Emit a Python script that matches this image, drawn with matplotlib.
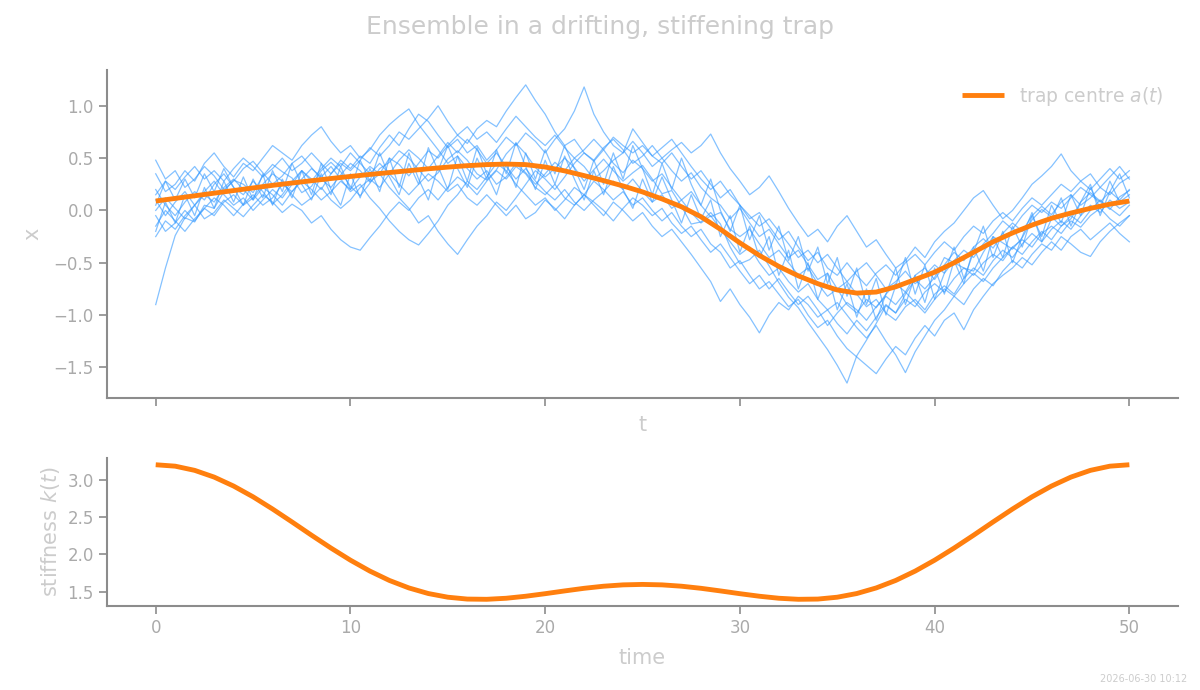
import numpy as np
import matplotlib
matplotlib.use("Agg")
import matplotlib.pyplot as plt

# ---------------- data ----------------
t_centre = list(range(0, 51))
trap_centre = [0.09, 0.115, 0.14, 0.165, 0.19, 0.215, 0.24, 0.262, 0.284, 0.305,
               0.325, 0.344, 0.362, 0.38, 0.398, 0.414, 0.428, 0.438, 0.443, 0.438,
               0.415, 0.378, 0.333, 0.285, 0.234, 0.177, 0.11, 0.035, -0.06, -0.18,
               -0.31, -0.43, -0.535, -0.625, -0.70, -0.76, -0.79, -0.78, -0.73, -0.66,
               -0.59, -0.50, -0.40, -0.30, -0.215, -0.14, -0.075, -0.025, 0.02, 0.06,
               0.09]
stiffness = [3.200, 3.181, 3.125, 3.035, 2.915, 2.771, 2.608, 2.435, 2.258, 2.086,
             1.924, 1.778, 1.653, 1.553, 1.478, 1.429, 1.404, 1.401, 1.415, 1.442,
             1.476, 1.513, 1.548, 1.576, 1.594, 1.600, 1.594, 1.576, 1.548, 1.513,
             1.476, 1.442, 1.415, 1.401, 1.404, 1.429, 1.478, 1.553, 1.653, 1.778,
             1.924, 2.086, 2.258, 2.435, 2.608, 2.771, 2.915, 3.035, 3.125, 3.181,
             3.200]

t_paths = [i * 0.5 for i in range(101)]

path1 = [-0.90, -0.55, -0.24, -0.07, -0.11, 0.05, 0.02, 0.18, 0.29, 0.25,
         0.17, 0.33, 0.44, 0.37, 0.31, 0.17, 0.23, 0.38, 0.46, 0.37,
         0.23, 0.14, 0.26, 0.40, 0.46, 0.57, 0.50, 0.39, 0.28, 0.36,
         0.49, 0.57, 0.48, 0.35, 0.29, 0.39, 0.54, 0.64, 0.54, 0.41,
         0.32, 0.40, 0.50, 0.41, 0.28, 0.39, 0.49, 0.38, 0.28, 0.36,
         0.43, 0.30, 0.16, 0.19, 0.04, -0.13, -0.11, -0.02, -0.13, -0.35,
         -0.51, -0.47, -0.38, -0.53, -0.69, -0.83, -0.93, -1.07, -1.20, -1.33,
         -1.48, -1.65, -1.39, -1.24, -1.08, -0.91, -0.98, -0.80, -0.66, -0.75,
         -0.64, -0.45, -0.50, -0.55, -0.58, -0.40, -0.25, -0.31, -0.37, -0.26,
         -0.09, 0.01, -0.06, -0.15, -0.08, 0.08, 0.17, 0.09, 0.01, 0.13,
         0.19]
path2 = [0.48, 0.30, 0.38, 0.22, 0.30, 0.42, 0.33, 0.20, 0.28, 0.40,
         0.47, 0.36, 0.25, 0.33, 0.45, 0.52, 0.41, 0.30, 0.22, 0.34,
         0.45, 0.38, 0.27, 0.35, 0.50, 0.44, 0.33, 0.45, 0.57, 0.50,
         0.62, 0.72, 0.64, 0.78, 0.86, 0.80, 0.95, 1.08, 1.20, 1.05,
         0.92, 0.75, 0.62, 0.68, 0.55, 0.47, 0.58, 0.45, 0.36, 0.48,
         0.40, 0.28, 0.35, 0.22, 0.10, 0.18, 0.05, -0.06, -0.02, -0.18,
         -0.25, -0.18, -0.32, -0.45, -0.38, -0.50, -0.62, -0.55, -0.70, -0.82,
         -0.75, -0.90, -0.98, -0.85, -0.93, -0.80, -0.70, -0.78, -0.62, -0.55,
         -0.66, -0.52, -0.40, -0.48, -0.35, -0.27, -0.36, -0.22, -0.12, -0.20,
         -0.05, 0.04, -0.04, 0.08, 0.15, 0.05, 0.12, 0.22, 0.15, 0.26,
         0.32]
path3 = [0.20, 0.05, -0.05, 0.08, 0.18, 0.10, 0.25, 0.35, 0.22, 0.15,
         0.28, 0.18, 0.06, 0.15, 0.28, 0.38, 0.30, 0.20, 0.35, 0.48,
         0.40, 0.52, 0.45, 0.60, 0.72, 0.62, 0.78, 0.92, 0.85, 0.72,
         0.60, 0.68, 0.55, 0.62, 0.48, 0.58, 0.70, 0.62, 0.74, 0.66,
         0.55, 0.68, 0.78, 0.95, 1.18, 0.92, 0.75, 0.62, 0.55, 0.66,
         0.55, 0.42, 0.50, 0.38, 0.28, 0.36, 0.22, 0.12, 0.05, -0.08,
         0.02, -0.12, -0.25, -0.18, -0.32, -0.45, -0.38, -0.52, -0.66, -0.60,
         -0.75, -0.68, -0.80, -0.92, -0.85, -0.98, -1.05, -0.92, -0.85, -0.95,
         -0.80, -0.72, -0.80, -0.65, -0.55, -0.62, -0.48, -0.38, -0.45, -0.32,
         -0.22, -0.30, -0.18, -0.10, -0.18, -0.05, 0.05, -0.02, 0.10, 0.02,
         0.08]
path4 = [-0.25, -0.10, -0.18, -0.05, 0.05, -0.08, -0.02, 0.10, 0.02, -0.06,
         0.05, 0.15, 0.08, -0.02, 0.06, 0.00, -0.12, -0.05, -0.18, -0.28,
         -0.35, -0.38, -0.26, -0.15, -0.02, 0.08, 0.00, 0.12, 0.20, 0.10,
         0.22, 0.32, 0.25, 0.15, 0.28, 0.38, 0.30, 0.42, 0.35, 0.22,
         0.15, 0.25, 0.12, 0.05, 0.15, 0.05, -0.05, 0.08, 0.00, -0.10,
         -0.02, -0.15, -0.25, -0.18, -0.30, -0.42, -0.55, -0.68, -0.87, -0.75,
         -0.90, -1.02, -1.17, -1.00, -0.88, -0.95, -0.82, -0.90, -1.02, -0.95,
         -1.08, -1.18, -1.05, -1.15, -1.02, -0.90, -0.98, -0.85, -0.92, -0.78,
         -0.70, -0.78, -0.65, -0.55, -0.62, -0.50, -0.42, -0.48, -0.35, -0.28,
         -0.35, -0.22, -0.15, -0.22, -0.10, -0.16, -0.05, 0.02, -0.08, -0.15,
         -0.05]
path5 = [0.35, 0.18, 0.25, 0.38, 0.28, 0.45, 0.55, 0.42, 0.32, 0.45,
         0.38, 0.50, 0.62, 0.55, 0.48, 0.62, 0.72, 0.80, 0.66, 0.55,
         0.62, 0.50, 0.58, 0.72, 0.82, 0.90, 0.97, 0.82, 0.70, 0.58,
         0.45, 0.52, 0.40, 0.30, 0.38, 0.25, 0.32, 0.45, 0.36, 0.25,
         0.35, 0.46, 0.38, 0.50, 0.42, 0.30, 0.38, 0.48, 0.55, 0.78,
         0.65, 0.52, 0.45, 0.55, 0.42, 0.30, 0.38, 0.25, 0.12, 0.20,
         0.05, -0.08, -0.02, -0.15, -0.28, -0.20, -0.35, -0.48, -0.40, -0.55,
         -0.62, -0.50, -0.62, -0.72, -0.60, -0.52, -0.62, -0.50, -0.42, -0.52,
         -0.40, -0.30, -0.38, -0.25, -0.15, -0.22, -0.10, -0.02, -0.10, 0.02,
         0.12, 0.05, 0.15, 0.25, 0.18, 0.28, 0.20, 0.30, 0.40, 0.30,
         0.38]
path6 = [-0.05, -0.20, -0.12, 0.00, -0.10, 0.02, 0.12, 0.05, -0.05, 0.06,
         0.15, 0.05, 0.12, 0.25, 0.18, 0.28, 0.20, 0.10, 0.18, 0.28,
         0.20, 0.32, 0.42, 0.35, 0.22, 0.12, 0.02, -0.12, -0.05, -0.20,
         -0.32, -0.42, -0.28, -0.15, -0.05, 0.08, 0.00, 0.12, 0.25, 0.38,
         0.30, 0.20, 0.32, 0.45, 0.55, 0.48, 0.60, 0.68, 0.58, 0.45,
         0.52, 0.62, 0.50, 0.58, 0.65, 0.55, 0.62, 0.73, 0.55, 0.40,
         0.28, 0.15, 0.22, 0.33, 0.18, 0.02, -0.12, -0.25, -0.18, -0.30,
         -0.15, -0.05, -0.20, -0.35, -0.28, -0.42, -0.55, -0.48, -0.35, -0.45,
         -0.30, -0.20, -0.12, 0.00, 0.12, 0.19, 0.05, -0.08, 0.00, 0.12,
         0.25, 0.33, 0.42, 0.54, 0.38, 0.28, 0.35, 0.22, 0.32, 0.42,
         0.30]
path7 = [0.10, -0.05, 0.08, 0.18, 0.05, 0.15, 0.08, 0.22, 0.30, 0.20,
         0.10, 0.22, 0.15, 0.05, 0.18, 0.30, 0.40, 0.32, 0.42, 0.30,
         0.18, 0.25, 0.12, 0.02, -0.10, -0.20, -0.28, -0.33, -0.22, -0.10,
         0.05, 0.15, 0.28, 0.20, 0.32, 0.45, 0.38, 0.25, 0.15, 0.05,
         0.12, 0.00, 0.10, 0.22, 0.15, 0.28, 0.20, 0.10, 0.18, 0.05,
         0.12, 0.00, -0.10, -0.02, -0.15, -0.25, -0.18, -0.32, -0.40, -0.55,
         -0.48, -0.62, -0.75, -0.68, -0.80, -0.92, -0.85, -1.00, -1.12, -1.05,
         -1.20, -1.32, -1.40, -1.48, -1.56, -1.42, -1.30, -1.38, -1.22, -1.10,
         -1.20, -1.05, -0.98, -1.14, -0.95, -0.82, -0.70, -0.62, -0.55, -0.45,
         -0.52, -0.40, -0.30, -0.38, -0.25, -0.18, -0.28, -0.20, -0.12, -0.22,
         -0.30]
path8 = [0.00, 0.12, 0.02, -0.08, 0.05, 0.18, 0.28, 0.15, 0.05, 0.12,
         0.00, 0.10, 0.20, 0.12, 0.25, 0.38, 0.28, 0.40, 0.50, 0.42,
         0.55, 0.45, 0.35, 0.45, 0.35, 0.48, 0.58, 0.50, 0.40, 0.52,
         0.65, 0.55, 0.68, 0.58, 0.45, 0.55, 0.42, 0.30, 0.40, 0.28,
         0.18, 0.10, 0.20, 0.08, 0.00, 0.10, 0.18, 0.28, 0.20, 0.30,
         0.18, 0.08, 0.15, 0.02, 0.10, -0.02, -0.12, -0.05, -0.18, -0.30,
         -0.42, -0.35, -0.50, -0.62, -0.55, -0.68, -0.78, -0.70, -0.85, -0.95,
         -0.88, -1.00, -1.12, -1.22, -1.10, -1.25, -1.38, -1.55, -1.35, -1.20,
         -1.05, -0.95, -0.82, -0.90, -0.75, -0.65, -0.72, -0.58, -0.48, -0.55,
         -0.42, -0.32, -0.38, -0.25, -0.32, -0.40, -0.44, -0.30, -0.20, -0.12,
         -0.05]
path9 = [0.15, 0.28, 0.20, 0.32, 0.42, 0.30, 0.38, 0.28, 0.40, 0.50,
         0.42, 0.32, 0.40, 0.50, 0.38, 0.45, 0.55, 0.45, 0.35, 0.45,
         0.38, 0.48, 0.60, 0.52, 0.62, 0.75, 0.68, 0.78, 0.88, 1.00,
         0.85, 0.72, 0.80, 0.68, 0.75, 0.65, 0.78, 0.90, 0.80, 0.70,
         0.62, 0.72, 0.60, 0.50, 0.58, 0.68, 0.58, 0.70, 0.62, 0.55,
         0.62, 0.52, 0.60, 0.68, 0.55, 0.42, 0.30, 0.20, 0.28, 0.15,
         0.05, -0.05, -0.15, -0.08, -0.20, -0.32, -0.45, -0.38, -0.50, -0.42,
         -0.55, -0.68, -0.58, -0.50, -0.62, -0.75, -0.68, -0.58, -0.70, -0.62,
         -0.52, -0.60, -0.48, -0.38, -0.45, -0.32, -0.22, -0.10, -0.18, -0.05,
         0.05, -0.02, 0.08, 0.02, 0.12, 0.22, 0.15, 0.08, 0.18, 0.10,
         0.20]
path10 = [-0.15, 0.00, -0.10, -0.20, -0.08, 0.02, -0.05, 0.08, 0.15, 0.05,
          0.12, 0.25, 0.35, 0.28, 0.15, 0.05, 0.12, 0.22, 0.10, 0.02,
          0.10, 0.22, 0.30, 0.22, 0.35, 0.25, 0.15, 0.25, 0.35, 0.28,
          0.18, 0.25, 0.12, 0.05, 0.15, 0.05, -0.05, 0.05, -0.08, -0.02,
          0.10, 0.02, -0.08, 0.05, 0.15, 0.08, 0.00, -0.10, 0.02, 0.12,
          0.05, -0.05, 0.02, -0.12, -0.22, -0.15, -0.28, -0.40, -0.32, -0.45,
          -0.58, -0.70, -0.62, -0.75, -0.65, -0.78, -0.90, -0.82, -0.95, -1.10,
          -0.98, -0.88, -0.95, -1.05, -0.92, -0.82, -0.90, -0.78, -0.88, -0.98,
          -0.85, -0.75, -0.82, -0.70, -0.60, -0.68, -0.55, -0.45, -0.35, -0.42,
          -0.30, -0.20, -0.28, -0.15, -0.05, -0.12, 0.00, 0.10, 0.02, -0.05,
          0.05]
path11 = [0.05, 0.28, 0.10, 0.30, 0.12, 0.35, 0.18, 0.40, 0.22, 0.05,
          0.30, 0.12, 0.38, 0.18, 0.45, 0.25, 0.10, 0.35, 0.15, 0.42,
          0.20, 0.48, 0.28, 0.55, 0.32, 0.15, 0.45, 0.25, 0.60, 0.38,
          0.62, 0.40, 0.22, 0.50, 0.30, 0.58, 0.35, 0.65, 0.42, 0.20,
          0.48, 0.25, 0.52, 0.30, 0.10, 0.38, 0.15, 0.42, 0.20, 0.02,
          0.30, 0.08, 0.32, 0.10, -0.12, 0.15, -0.08, 0.10, -0.25, -0.05,
          -0.40, -0.15, -0.45, -0.25, -0.62, -0.38, -0.75, -0.50, -0.85, -0.60,
          -0.95, -0.70, -1.02, -0.75, -1.05, -0.80, -0.55, -0.90, -0.62, -0.88,
          -0.55, -0.80, -0.48, -0.70, -0.35, -0.58, -0.25, -0.45, -0.15, -0.35,
          -0.05, -0.25, 0.05, -0.12, 0.15, -0.05, 0.22, 0.02, 0.28, 0.08,
          0.15]
path12 = [-0.20, 0.08, -0.12, 0.15, -0.05, 0.22, 0.02, 0.28, 0.08, 0.32,
          0.10, 0.35, 0.05, 0.30, 0.12, 0.38, 0.15, 0.45, 0.20, 0.05,
          0.35, 0.12, 0.40, 0.18, 0.50, 0.22, 0.55, 0.30, 0.10, 0.42,
          0.20, 0.52, 0.28, 0.60, 0.35, 0.15, 0.45, 0.22, 0.55, 0.30,
          0.58, 0.35, 0.62, 0.40, 0.20, 0.48, 0.25, 0.55, 0.30, 0.62,
          0.40, 0.15, 0.45, 0.20, 0.50, 0.25, 0.05, 0.30, 0.00, -0.20,
          0.05, -0.28, -0.05, -0.38, -0.15, -0.48, -0.25, -0.58, -0.35, -0.70,
          -0.45, -0.82, -0.55, -0.90, -0.65, -1.00, -0.72, -0.45, -0.80, -0.52,
          -0.85, -0.60, -0.35, -0.65, -0.40, -0.15, -0.45, -0.20, -0.50, -0.25,
          -0.02, -0.30, -0.08, 0.12, -0.15, 0.08, 0.25, -0.05, 0.18, 0.35,
          0.12]
paths = [path1, path2, path3, path4, path5, path6, path7, path8, path9, path10,
         path11, path12]

x_ticks = [0, 10, 20, 30, 40, 50]
title = "Ensemble in a drifting, stiffening trap"
stamp = "2026-06-30 10:12"

# ---------------- style ----------------
SPINE = "#8c8c8c"
TICKLAB = "#aaaaaa"
LABEL = "#cccccc"
BLUE = "#3399ff"
ORANGE = "#ff7f0e"

fig = plt.figure(figsize=(12, 6.9), dpi=100)
ax1 = fig.add_axes([0.0892, 0.4232, 0.8925, 0.4754])
ax2 = fig.add_axes([0.0892, 0.1217, 0.8925, 0.2145], sharex=ax1)

for p in paths:
    ax1.plot(t_paths, p, color=BLUE, lw=0.9, alpha=0.6)
ax1.plot(t_centre, trap_centre, color=ORANGE, lw=3.5, label="trap centre $a(t)$",
         solid_capstyle="butt")
ax2.plot(t_centre, stiffness, color=ORANGE, lw=3.5, solid_capstyle="butt")

for ax in (ax1, ax2):
    for s in ("top", "right"):
        ax.spines[s].set_visible(False)
    for s in ("left", "bottom"):
        ax.spines[s].set_color(SPINE)
        ax.spines[s].set_linewidth(1.5)
    ax.tick_params(colors=SPINE, labelcolor=TICKLAB, labelsize=12, length=6, width=1.2)

ax1.set_xticks(x_ticks)
ax1.tick_params(axis="x", labelbottom=False)
ax1.set_yticks([-1.5, -1.0, -0.5, 0.0, 0.5, 1.0])
ax2.set_yticks([1.5, 2.0, 2.5, 3.0])

ax1.set_xlabel("t", color=LABEL, fontsize=15, labelpad=6)
ax1.set_ylabel("x", color=LABEL, fontsize=15, labelpad=8)
ax2.set_xlabel("time", color=LABEL, fontsize=15, labelpad=8)
ax2.set_ylabel("stiffness $k(t)$", color=LABEL, fontsize=15)

leg = ax1.legend(loc="upper right", frameon=False, fontsize=13.5, handlelength=2.2,
                 borderaxespad=0.4)
for txt in leg.get_texts():
    txt.set_color(LABEL)

fig.suptitle(title, color=LABEL, fontsize=18, y=0.978)
fig.text(0.989, 0.008, stamp, ha="right", va="bottom", fontsize=7, color=LABEL)

fig.savefig("out.png", dpi=100)
